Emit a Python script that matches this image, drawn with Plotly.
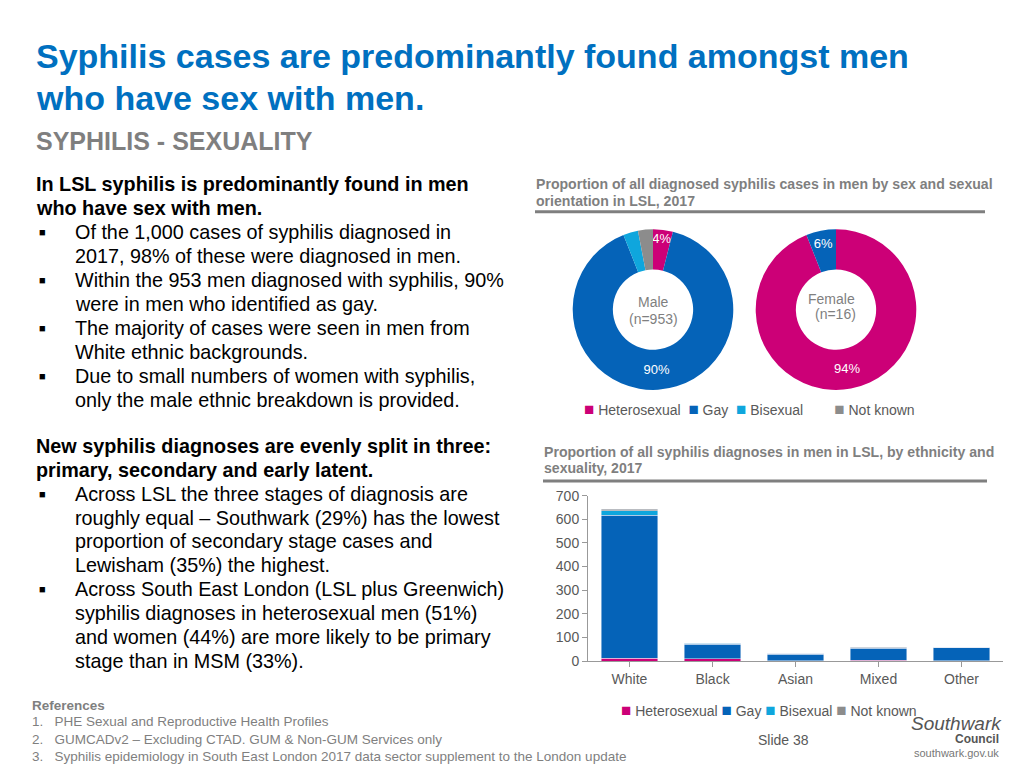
import plotly.graph_objects as go

W, H = 1024, 768

# donut data (% share)
orient_labels = ["Heterosexual", "Gay", "Bisexual", "Not known"]
male_pct = [4, 90, 3, 3]
female_pct = [94, 6, 0, 0]

# bar data (cases in men by ethnicity)
ethnicity = ["White", "Black", "Asian", "Mixed", "Other"]
hetero = [12, 10, 2, 3, 1]
gay = [605, 62, 27, 52, 55]
bisexual = [18, 3, 2, 2, 1]
not_known = [8, 0, 0, 2, 0]

colors = ["#CC0077", "#0563B8", "#0FA6DD", "#8C8C8C"]

fig = go.Figure()

def px_x(x):
    return x / W

def px_y(y):
    return 1 - y / H

# donuts
r = 82
for cx, vals in [(653, male_pct), (836, female_pct)]:
    texts = [f"{v}%" if v >= 4 else "" for v in vals]
    fig.add_trace(go.Pie(
        labels=orient_labels, values=vals, hole=0.5, sort=False,
        direction="clockwise", rotation=0, text=texts, textinfo="text",
        textposition="inside", insidetextorientation="horizontal",
        textfont=dict(color="white", size=13, family="Liberation Sans"),
        marker=dict(colors=colors), showlegend=False,
        domain=dict(x=[px_x(cx - r), px_x(cx + r)], y=[px_y(308 + r), px_y(308 - r)]),
        hoverinfo="label+value",
    ))

# stacked bars
for name, vals, c in zip(orient_labels, [hetero, gay, bisexual, not_known], colors):
    fig.add_trace(go.Bar(x=ethnicity, y=vals, name=name, marker_color=c,
                         width=0.68, showlegend=False))

fig.update_layout(
    width=W, height=H, margin=dict(l=0, r=0, t=0, b=0),
    paper_bgcolor="white", plot_bgcolor="white", barmode="stack",
    font=dict(family="Liberation Sans", color="#595959"),
    uniformtext=dict(minsize=13, mode="show"),
    xaxis=dict(domain=[px_x(588), px_x(1003)], showline=True, linecolor="#999",
               ticks="outside", tickcolor="#999", ticklen=5,
               tickfont=dict(size=14, color="#595959")),
    yaxis=dict(domain=[px_y(667), px_y(498)], range=[0, 700], dtick=100,
               showline=True, linecolor="#999", ticks="outside", tickcolor="#999",
               ticklen=5, showgrid=False, zeroline=False,
               tickfont=dict(size=14, color="#595959")),
    bargap=0.3,
)

def txt(x, y, s, size=18, color="black", bold=False, anchor="left"):
    if bold:
        s = f"<b>{s}</b>"
    fig.add_annotation(x=px_x(x), y=px_y(y), xref="paper", yref="paper", text=s,
                       showarrow=False, xanchor=anchor, yanchor="middle", borderpad=0,
                       font=dict(size=size, color=color, family="Liberation Sans"))

def legend_text(gaps):
    parts = []
    for lab, c, g in zip(orient_labels, colors, gaps):
        parts.append(f"<span style='color:{c};font-size:17px'>■</span> {lab}{'&nbsp;' * g}")
    return "".join(parts)

txt(35, 49, "Syphilis cases are predominantly found amongst men", 34, "#0070C0", True)
txt(35, 92, "who have sex with men.", 34, "#0070C0", True)
txt(35, 136, "SYPHILIS - SEXUALITY", 25, "#7F7F7F", True)

block1 = [
    (True, "In LSL syphilis is predominantly found in men"),
    (True, "who have sex with men."),
    ("b", "Of the 1,000 cases of syphilis diagnosed in"),
    (None, "2017, 98% of these were diagnosed in men."),
    ("b", "Within the 953 men diagnosed with syphilis, 90%"),
    (None, "were in men who identified as gay."),
    ("b", "The majority of cases were seen in men from"),
    (None, "White ethnic backgrounds."),
    ("b", "Due to small numbers of women with syphilis,"),
    (None, "only the male ethnic breakdown is provided."),
]
block2 = [
    (True, "New syphilis diagnoses are evenly split in three:"),
    (True, "primary, secondary and early latent."),
    ("b", "Across LSL the three stages of diagnosis are"),
    (None, "roughly equal – Southwark (29%) has the lowest"),
    (None, "proportion of secondary stage cases and"),
    (None, "Lewisham (35%) the highest."),
    ("b", "Across South East London (LSL plus Greenwich)"),
    (None, "syphilis diagnoses in heterosexual men (51%)"),
    (None, "and women (44%) are more likely to be primary"),
    (None, "stage than in MSM (33%)."),
]
for start, block in [(180, block1), (447, block2)]:
    for i, (kind, s) in enumerate(block):
        y = start + i * 24.45
        if kind is True:
            txt(35, y, s, 19.8, "black", True)
        else:
            if kind == "b":
                txt(38, y, "■", 11)
            txt(74, y, s, 19.8)

# chart titles
txt(535, 180, "Proportion of all diagnosed syphilis cases in men by sex and sexual", 14.1, "#7F7F7F", True)
txt(535, 197, "orientation in LSL, 2017", 14.1, "#7F7F7F", True)
txt(543, 453, "Proportion of all syphilis diagnoses in men in LSL, by ethnicity and", 14.1, "#7F7F7F", True)
txt(543, 470, "sexuality, 2017", 14.1, "#7F7F7F", True)
for x0, x1, y in [(535, 985, 208), (543, 987, 483)]:
    fig.add_shape(type="line", xref="paper", yref="paper", x0=px_x(x0), x1=px_x(x1),
                  y0=px_y(y), y1=px_y(y), line=dict(color="#7F7F7F", width=3))

# donut centre labels
txt(653, 300, "Male", 14, "#7F7F7F", anchor="center")
txt(653, 318, "(n=953)", 14, "#7F7F7F", anchor="center")
txt(831, 297, "Female", 14, "#7F7F7F", anchor="center")
txt(835, 312, "(n=16)", 14, "#7F7F7F", anchor="center")

# legends
txt(583, 410, legend_text([2, 2, 8, 0]), 14, "#595959")
txt(620, 717, legend_text([1, 1, 1, 0]), 14, "#595959")

# references
txt(31, 712, "References", 13.5, "#7F7F7F", True)
txt(31, 729, "1.   PHE Sexual and Reproductive Health Profiles", 13.5, "#7F7F7F")
txt(31, 747, "2.   GUMCADv2 – Excluding CTAD. GUM & Non-GUM Services only", 13.5, "#7F7F7F")
txt(31, 764, "3.   Syphilis epidemiology in South East London 2017 data sector supplement to the London update", 13.5, "#7F7F7F")
txt(783, 748, "Slide 38", 14, "#595959", anchor="center")

# logo
txt(1003, 731, "<i>Southwark</i>", 19, "#555", anchor="right")
txt(1000, 747, "Council", 12, "#555", True, anchor="right")
txt(1000, 761, "southwark.gov.uk", 11, "#777", anchor="right")

fig.write_html("out.html", post_script="document.body.style.margin='0';",
               config={"displayModeBar": False})
